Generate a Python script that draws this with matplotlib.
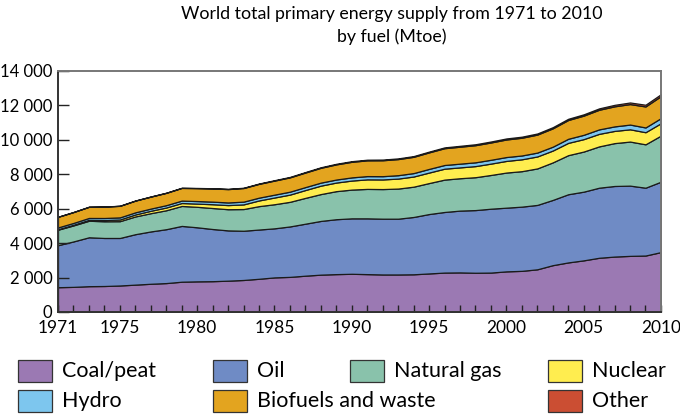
import matplotlib
matplotlib.use("Agg")
import matplotlib.pyplot as plt
from matplotlib.patches import Rectangle
from matplotlib.ticker import FuncFormatter, MultipleLocator

plt.rcParams['font.family'] = ['Lato', 'DejaVu Sans']

years = list(range(1971, 2011))

coal = [1440, 1460, 1500, 1510, 1540, 1590, 1640, 1680, 1760, 1780,
        1790, 1820, 1860, 1930, 2010, 2040, 2110, 2170, 2200, 2220,
        2200, 2180, 2180, 2190, 2240, 2290, 2300, 2280, 2290, 2360,
        2390, 2480, 2720, 2880, 3000, 3150, 3220, 3260, 3280, 3480]
oil = [2440, 2640, 2840, 2790, 2760, 2930, 3040, 3130, 3240, 3140,
       3030, 2920, 2860, 2860, 2850, 2930, 3020, 3120, 3190, 3220,
       3240, 3240, 3240, 3330, 3450, 3520, 3590, 3640, 3710, 3700,
       3730, 3740, 3790, 3960, 3990, 4070, 4100, 4080, 3940, 4090]
gas = [900, 930, 960, 970, 975, 1030, 1060, 1100, 1160, 1190,
       1220, 1230, 1260, 1360, 1400, 1430, 1500, 1560, 1630, 1670,
       1710, 1720, 1750, 1760, 1800, 1880, 1880, 1910, 1960, 2040,
       2060, 2120, 2180, 2270, 2330, 2400, 2490, 2560, 2520, 2680]
nuclear = [29, 38, 53, 71, 98, 115, 140, 160, 170, 186,
           220, 240, 270, 330, 390, 420, 455, 490, 500, 525,
           555, 560, 580, 590, 610, 635, 630, 645, 660, 676,
           690, 695, 688, 714, 721, 728, 709, 712, 703, 719]
hydro = [104, 107, 110, 120, 123, 124, 127, 136, 141, 148,
         150, 153, 160, 163, 167, 170, 171, 176, 175, 184,
         189, 189, 197, 199, 212, 214, 217, 220, 222, 225,
         222, 225, 225, 238, 251, 260, 263, 275, 276, 296]
biofuels = [615, 630, 647, 660, 670, 680, 695, 715, 735, 750,
            765, 775, 790, 800, 815, 830, 845, 860, 880, 905,
            915, 925, 935, 945, 960, 975, 985, 995, 1005, 1020,
            1030, 1045, 1065, 1090, 1115, 1140, 1165, 1190, 1220, 1277]
other = [4, 4, 5, 5, 6, 7, 8, 9, 10, 12,
         14, 16, 18, 21, 25, 27, 30, 32, 35, 37,
         38, 40, 41, 43, 45, 48, 51, 54, 57, 60,
         62, 64, 67, 71, 75, 80, 86, 93, 100, 112]

labels = ['Coal/peat', 'Oil', 'Natural gas', 'Nuclear', 'Hydro',
          'Biofuels and waste', 'Other']
colors = ['#9b79b3', '#6f8bc5', '#89c2ab', '#ffed4f', '#7dc6ee',
          '#e3a41f', '#cb4e33']
xtick_years = [1971, 1975, 1980, 1985, 1990, 1995, 2000, 2005, 2010]

fig = plt.figure(figsize=(6.8, 4.17), dpi=100)
ax = fig.add_axes([0.0853, 0.2518, 0.8867, 0.578])

ax.stackplot(years, coal, oil, gas, nuclear, hydro, biofuels, other,
             colors=colors, edgecolor='#1a1a1a', linewidth=0.9)

ax.set_xlim(1971, 2010)
ax.set_ylim(0, 14000)
ax.set_xticks(xtick_years)
ax.xaxis.set_minor_locator(MultipleLocator(1))
ax.yaxis.set_major_locator(MultipleLocator(2000))
ax.yaxis.set_major_formatter(FuncFormatter(lambda v, p: f"{int(v):,}".replace(',', ' ')))

ax.tick_params(axis='x', which='both', direction='in', length=5, width=1,
               top=False, labelsize=12.5, pad=6, color='#222222')
ax.tick_params(axis='y', which='major', direction='in', length=8, width=1,
               right=False, labelsize=12, pad=4, color='#222222')

for side in ['left', 'bottom']:
    ax.spines[side].set_color('#333333')
    ax.spines[side].set_linewidth(1.4)
for side in ['top', 'right']:
    ax.spines[side].set_color('#777777')
    ax.spines[side].set_linewidth(1.4)

fig.text(0.576, 1 - 6 / 417, 'World total primary energy supply from 1971 to 2010\nby fuel (Mtoe)',
         ha='center', va='top', fontsize=12.8, linespacing=1.5)

# legend laid out by hand, two rows
legend_pos = [(18, 371), (213, 371), (350, 371), (548, 371),
              (18, 401), (213, 401), (548, 401)]
W, H = 680.0, 417.0
for i, (px, py) in enumerate(legend_pos):
    fig.patches.append(Rectangle((px / W, 1 - (py + 11) / H), 34 / W, 22 / H,
                                 transform=fig.transFigure, facecolor=colors[i],
                                 edgecolor='#333333', linewidth=0.9))
    fig.text((px + 44) / W, 1 - py / H, labels[i], ha='left', va='center',
             fontsize=15.5)

fig.savefig('out.png', dpi=100)
